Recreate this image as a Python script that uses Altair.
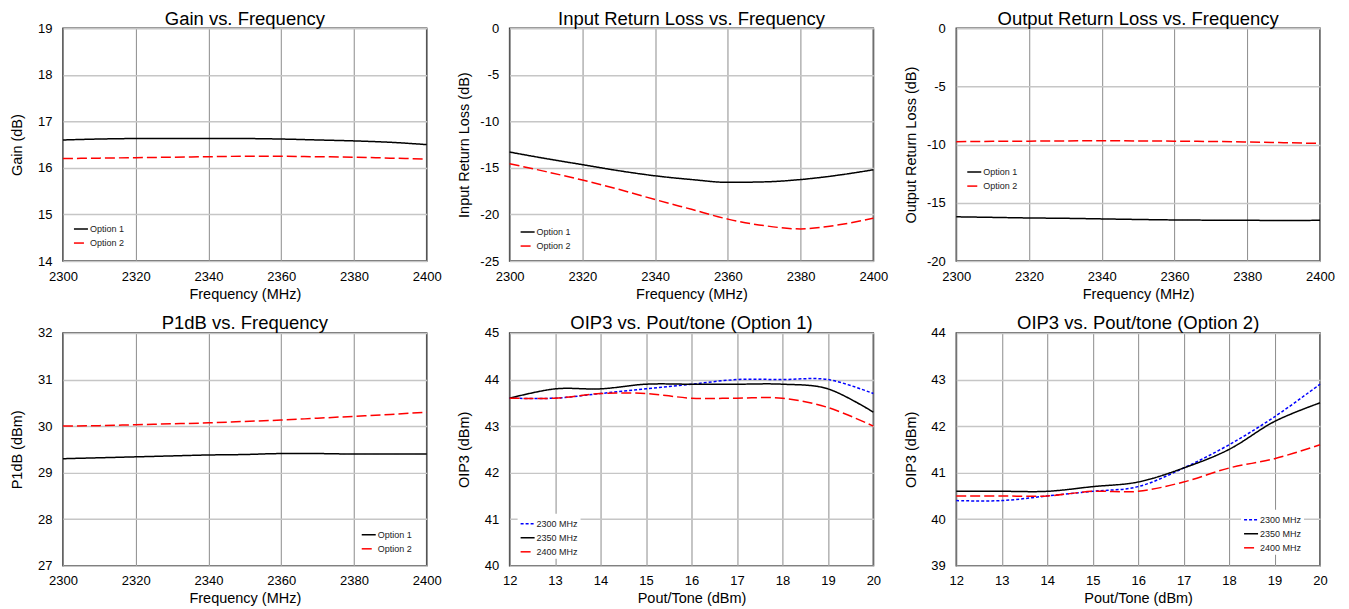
import altair as alt
import pandas as pd

# ---------------- data ----------------
freq = [2300, 2310, 2320, 2330, 2340, 2350, 2360, 2370, 2380, 2390, 2400]
gain_opt1 = [16.60, 16.62, 16.63, 16.63, 16.63, 16.63, 16.62, 16.60, 16.58, 16.55, 16.50]
gain_opt2 = [16.20, 16.21, 16.22, 16.23, 16.24, 16.25, 16.25, 16.24, 16.23, 16.21, 16.19]
irl_opt1 = [-13.3, -14.0, -14.65, -15.3, -15.85, -16.25, -16.55, -16.5, -16.25, -15.8, -15.2]
irl_opt2 = [-14.55, -15.4, -16.3, -17.3, -18.4, -19.45, -20.5, -21.2, -21.55, -21.15, -20.4]
orl_opt1 = [-16.2, -16.25, -16.3, -16.33, -16.38, -16.43, -16.47, -16.49, -16.5, -16.52, -16.5]
orl_opt2 = [-9.75, -9.72, -9.7, -9.68, -9.67, -9.68, -9.7, -9.73, -9.77, -9.83, -9.9]
p1db_opt1 = [29.30, 29.32, 29.34, 29.36, 29.38, 29.39, 29.41, 29.41, 29.40, 29.40, 29.40]
p1db_opt2 = [30.0, 30.01, 30.03, 30.05, 30.07, 30.10, 30.13, 30.17, 30.21, 30.25, 30.30]

pout = [12, 13, 14, 15, 16, 17, 18, 19, 20]
oip3_o1_2300 = [43.6, 43.6, 43.7, 43.8, 43.9, 44.0, 44.0, 44.0, 43.7]
oip3_o1_2350 = [43.6, 43.8, 43.8, 43.9, 43.9, 43.9, 43.9, 43.8, 43.3]
oip3_o1_2400 = [43.6, 43.6, 43.7, 43.7, 43.6, 43.6, 43.6, 43.4, 43.0]
oip3_o2_2300 = [40.4, 40.4, 40.5, 40.6, 40.7, 41.1, 41.6, 42.2, 42.9]
oip3_o2_2350 = [40.6, 40.6, 40.6, 40.7, 40.8, 41.1, 41.5, 42.1, 42.5]
oip3_o2_2400 = [40.5, 40.5, 40.5, 40.6, 40.6, 40.8, 41.1, 41.3, 41.6]

opt_names = ["Option 1", "Option 2"]
freq_names = ["2300 MHz", "2350 MHz", "2400 MHz"]
freq_ticks = [2300, 2320, 2340, 2360, 2380, 2400]
pout_ticks = [12, 13, 14, 15, 16, 17, 18, 19, 20]

opt_colors = ["#000000", "#ff0000"]
opt_dashes = [[1, 0], [10, 4]]
f_colors = ["#0000ff", "#000000", "#ff0000"]
f_dashes = [[3, 2], [1, 0], [10, 4]]


def long_df(xs, series, names):
    rows = []
    for name, ys in zip(names, series):
        for i, (x, y) in enumerate(zip(xs, ys)):
            rows.append({"x": x, "y": y, "s": name, "o": i})
    return pd.DataFrame(rows)


def panel(df, title, xtitle, ytitle, xdom, xticks, ydom, yticks, names, colors,
          dashes, lx, ly, interp):
    leg = alt.Legend(
        orient="none", legendX=lx, legendY=ly, title=None, symbolType="stroke",
        symbolSize=196, symbolStrokeWidth=1.5, labelFontSize=9, labelColor="#222",
        fillColor="white", padding=2, rowPadding=1, labelOffset=1,
        labelFont="Liberation Sans",
    )
    return alt.Chart(df).mark_line(strokeWidth=1.5, interpolate=interp).encode(
        x=alt.X("x:Q", scale=alt.Scale(domain=xdom, nice=False, zero=False),
                axis=alt.Axis(values=xticks, title=xtitle, labelFlush=False,
                              labelExpr="'' + datum.value")),
        y=alt.Y("y:Q", scale=alt.Scale(domain=ydom, nice=False, zero=False),
                axis=alt.Axis(values=yticks, title=ytitle, labelFlush=False,
                              labelExpr="'' + datum.value",
                              titleX=-45, titleBaseline="middle")),
        color=alt.Color("s:N", scale=alt.Scale(domain=names, range=colors), legend=leg),
        strokeDash=alt.StrokeDash("s:N", scale=alt.Scale(domain=names, range=dashes), legend=leg),
        order="o:Q",
    ).properties(width=364, height=233, title=title)


p1 = panel(long_df(freq, [gain_opt1, gain_opt2], opt_names), "Gain vs. Frequency",
           "Frequency (MHz)", "Gain (dB)", [2300, 2400], freq_ticks, [14, 19],
           [14, 15, 16, 17, 18, 19], opt_names, opt_colors, opt_dashes, 8, 191, "monotone")
p2 = panel(long_df(freq, [irl_opt1, irl_opt2], opt_names), "Input Return Loss vs. Frequency",
           "Frequency (MHz)", "Input Return Loss (dB)", [2300, 2400], freq_ticks, [-25, 0],
           [-25, -20, -15, -10, -5, 0], opt_names, opt_colors, opt_dashes, 8, 194, "monotone")
p3 = panel(long_df(freq, [orl_opt1, orl_opt2], opt_names), "Output Return Loss vs. Frequency",
           "Frequency (MHz)", "Output Return Loss (dB)", [2300, 2400], freq_ticks, [-20, 0],
           [-20, -15, -10, -5, 0], opt_names, opt_colors, opt_dashes, 8, 134, "monotone")
p4 = panel(long_df(freq, [p1db_opt1, p1db_opt2], opt_names), "P1dB vs. Frequency",
           "Frequency (MHz)", "P1dB (dBm)", [2300, 2400], freq_ticks, [27, 32],
           [27, 28, 29, 30, 31, 32], opt_names, opt_colors, opt_dashes, 296, 192, "monotone")
p5 = panel(long_df(pout, [oip3_o1_2300, oip3_o1_2350, oip3_o1_2400], freq_names),
           "OIP3 vs. Pout/tone (Option 1)", "Pout/Tone (dBm)", "OIP3 (dBm)", [12, 20],
           pout_ticks, [40, 45], [40, 41, 42, 43, 44, 45], freq_names, f_colors, f_dashes,
           8, 181, "cardinal")
p6 = panel(long_df(pout, [oip3_o2_2300, oip3_o2_2350, oip3_o2_2400], freq_names),
           "OIP3 vs. Pout/tone (Option 2)", "Pout/Tone (dBm)", "OIP3 (dBm)", [12, 20],
           pout_ticks, [39, 44], [39, 40, 41, 42, 43, 44], freq_names, f_colors, f_dashes,
           285, 177, "cardinal")

chart = alt.concat(
    p1, p2, p3, p4, p5, p6, columns=3,
    spacing={"row": 72, "column": 83}, bounds="flush",
    padding={"left": 1, "top": 0, "right": 5, "bottom": 0},
).resolve_scale(
    color="independent", strokeDash="independent", x="independent", y="independent"
).resolve_legend(
    color="independent", strokeDash="independent"
).configure(
    font="Liberation Sans"
).configure_view(
    stroke="#3a3a3a", strokeWidth=1.5
).configure_title(
    fontSize=18.5, fontWeight="normal", color="#000000", offset=-6, anchor="middle",
    font="Liberation Sans"
).configure_axis(
    labelFontSize=13, titleFontSize=14.5, titleFontWeight="normal", labelColor="#000000",
    titleColor="#000000", ticks=False, domain=False, labelFont="Liberation Sans",
    titleFont="Liberation Sans"
).configure_axisX(
    gridColor="#8c8c8c", gridWidth=1, gridOpacity=1, labelPadding=9, titlePadding=4
).configure_axisY(
    gridColor="#c6c6c6", gridWidth=1.5, gridOpacity=1, labelPadding=11
)

chart.save("out.html", embed_options={"renderer": "svg", "actions": False})
